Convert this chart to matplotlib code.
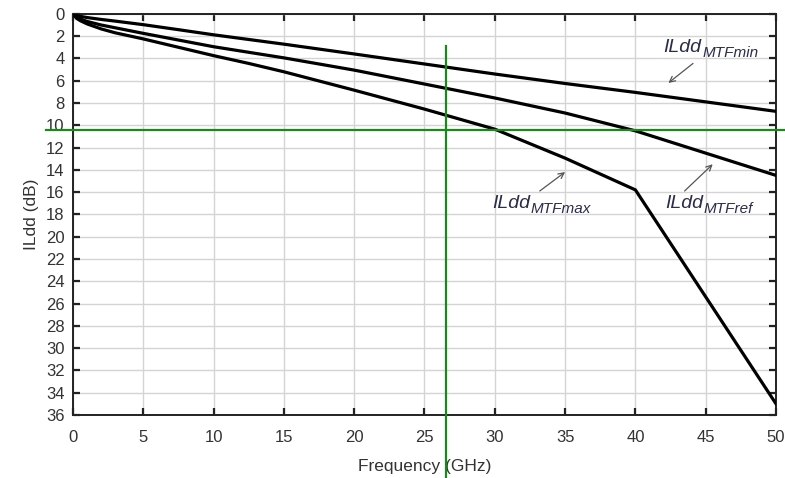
import numpy as np
import matplotlib.pyplot as plt

# Frequency sample points (GHz) and insertion-loss curves (dB)
FREQ = [0, 0.25, 0.5, 1, 2, 3, 5, 7.5, 10, 12.5, 15, 20, 25, 30, 35, 40, 45, 50]
IL_MIN = [0, 0.15, 0.22, 0.33, 0.5, 0.65, 0.97, 1.42, 1.88, 2.3, 2.72, 3.6, 4.5, 5.4,
          6.25, 7.05, 7.9, 8.75]
IL_REF = [0, 0.3, 0.45, 0.68, 1.0, 1.25, 1.75, 2.35, 2.95, 3.45, 3.95, 5.05, 6.3, 7.55,
          8.9, 10.5, 12.5, 14.5]
IL_MAX = [0, 0.4, 0.6, 0.9, 1.35, 1.7, 2.25, 3.0, 3.75, 4.45, 5.2, 6.85, 8.55, 10.35,
          12.95, 15.8, 25.4, 35.0]

X_TICKS = list(range(0, 51, 5))
Y_TICKS = list(range(0, 37, 2))

# green marker lines
MARK_FREQ = 26.55
MARK_IL = 10.45

TEXT_COLOR = "#333333"
LABEL_COLOR = "#2a2d4a"

plt.rcParams.update({
    "font.family": ["Liberation Sans", "DejaVu Sans"],
})

fig = plt.figure(figsize=(7.85, 4.78), dpi=100)
ax = fig.add_axes([0.093, 0.132, 0.8955, 0.839])

for ys in (IL_MIN, IL_REF, IL_MAX):
    ax.plot(FREQ, ys, color="black", linewidth=2.3, solid_joinstyle="miter", zorder=3)

ax.set_xlim(0, 50)
ax.set_ylim(36, 0)
ax.set_xticks(X_TICKS)
ax.set_yticks(Y_TICKS)
ax.grid(True, color="#d4d4d4", linewidth=1.0)
ax.set_axisbelow(True)
ax.tick_params(direction="in", length=5, width=1.6, top=True, right=True,
               labelsize=12, labelcolor=TEXT_COLOR, colors="#222222")
ax.tick_params(axis="x", pad=11)
ax.tick_params(axis="y", pad=6)
for s in ax.spines.values():
    s.set_linewidth(1.4)
    s.set_color("#222222")

ax.set_xlabel("Frequency (GHz)", fontsize=12.5, color=TEXT_COLOR, labelpad=10)
ax.set_ylabel("ILdd (dB)", fontsize=12.5, color=TEXT_COLOR, labelpad=5)

# green reference lines, extending beyond the axes
ax.plot([-1.9, 50.7], [MARK_IL, MARK_IL], color="#178a17", linewidth=1.6,
        clip_on=False, zorder=4)
ax.plot([MARK_FREQ, MARK_FREQ], [2.9, 41.8], color="#178a17", linewidth=1.6,
        clip_on=False, zorder=4)

arrow = dict(arrowstyle="->", color="#555555", linewidth=0.9, shrinkA=0, shrinkB=0)


def curve_label(sub, text_pos, tail, head):
    main = ax.text(*text_pos, "ILdd", fontsize=14, style="italic",
                   color=LABEL_COLOR, va="baseline", ha="left")
    ax.annotate(sub, xy=(1, 0), xycoords=main, xytext=(0.5, -3),
                textcoords="offset points", fontsize=11, style="italic",
                color=LABEL_COLOR, va="bottom", ha="left")
    ax.annotate("", xy=head, xytext=tail, arrowprops=arrow)


curve_label("MTFmin", (42.0, 3.4), (44.1, 4.45), (42.35, 6.2))
curve_label("MTFmax", (29.8, 17.4), (33.2, 15.9), (35.0, 14.2))
curve_label("MTFref", (42.1, 17.4), (43.5, 15.9), (45.5, 13.5))

fig.savefig("out.png", dpi=100)
